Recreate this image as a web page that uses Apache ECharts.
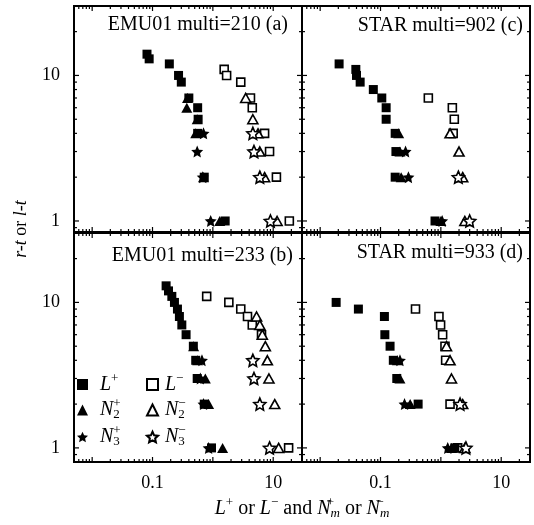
<!DOCTYPE html>
<html>
<head>
<meta charset="utf-8">
<script src="https://cdn.jsdelivr.net/npm/echarts@6/dist/echarts.min.js"></script>
<style>
html,body{margin:0;padding:0;background:#fff;}
#chart{width:534px;height:525px;}
</style>
</head>
<body>
<div id="chart"></div>
<script>
// ---------- data: [x, r-t] pairs ----------
// panel (a) EMU01 multi=210
const a_Lp  = [[0.081,14],[0.088,13],[0.19,12],[0.27,10],[0.30,9],[0.40,7],[0.56,6],[0.57,5],[0.56,4],[0.72,2],[1.6,1]];
const a_N2p = [[0.38,7],[0.37,6],[0.55,5],[0.52,4],[0.70,2],[1.3,1]];
const a_N3p = [[0.70,4],[0.55,3],[0.68,2],[0.92,1]];
const a_Lm  = [[1.54,11],[1.69,10],[2.9,9],[4.2,7],[4.5,6],[7.2,4],[8.7,3],[11.3,2],[18.5,1]];
const a_N2m = [[3.5,7],[4.6,5],[5.6,4],[6.0,3],[7.2,2],[11.6,1]];
const a_N3m = [[4.6,4],[4.8,3],[6.0,2],[9.0,1]];
// panel (c) STAR multi=902
const c_Lp  = [[0.0206,12],[0.039,11],[0.040,10],[0.046,9],[0.076,8],[0.105,7],[0.124,6],[0.124,5],[0.175,4],[0.18,3],[0.175,2],[0.80,1]];
const c_N2p = [[0.20,4],[0.21,3],[0.22,2],[1.0,1]];
const c_N3p = [[0.26,3],[0.29,2],[1.05,1]];
const c_Lm  = [[0.62,7],[1.55,6],[1.67,5],[1.6,4]];
const c_N2m = [[1.42,4],[2.0,3],[2.3,2],[2.5,1]];
const c_N3m = [[1.95,2],[3.0,1]];
// panel (b) EMU01 multi=233
const b_Lp  = [[0.168,13],[0.184,12],[0.209,11],[0.231,10],[0.259,9],[0.279,8],[0.306,7],[0.36,6],[0.475,5],[0.52,4],[0.55,3],[0.72,2],[0.95,1]];
const b_N2p = [[0.48,5],[0.56,4],[0.75,3],[0.85,2],[1.45,1]];
const b_N3p = [[0.66,4],[0.62,3],[0.70,2],[0.85,1]];
const b_Lm  = [[0.79,11],[1.84,10],[2.9,9],[3.75,8],[4.5,7],[6.4,6],[18,1]];
const b_N2m = [[5.3,8],[6.0,7],[6.6,6],[7.4,5],[8.0,4],[8.5,3],[10.6,2],[12.3,1]];
const b_N3m = [[4.6,4],[4.8,3],[6.0,2],[8.7,1]];
// panel (d) STAR multi=933
const d_Lp  = [[0.0184,10],[0.043,9],[0.116,8],[0.118,6],[0.144,5],[0.163,4],[0.186,3],[0.42,2],[1.7,1]];
const d_N2p = [[0.19,4],[0.21,3],[0.31,2],[1.5,1]];
const d_N3p = [[0.21,4],[0.25,2],[1.3,1]];
const d_Lm  = [[0.38,9],[0.93,8],[0.99,7],[1.07,6],[1.17,5],[1.2,4],[1.42,2],[1.9,1]];
const d_N2m = [[1.24,5],[1.42,4],[1.5,3],[2.3,2],[2.5,1]];
const d_N3m = [[2.08,2],[2.6,1]];

const panelTitles = ['EMU01 multi=210 (a)', 'STAR multi=902 (c)', 'EMU01 multi=233 (b)', 'STAR multi=933 (d)'];
const seriesNames = ['Lp','N2p','N3p','Lm','N2m','N3m'];
const legendLabels = ['{i|L}{sp|+}','{i|N}{spz|+}{sb|2}','{i|N}{spz|+}{sb|3}','{i|L}{sp|−}','{i|N}{spz|−}{sb|2}','{i|N}{spz|−}{sb|3}'];
const xTickLabels = ['0.1','10'];
const yTickLabels = ['1','10'];
const xMajorTicks = [0.01,0.1,1,10];
const xMinorTicks = [0.006,0.007,0.008,0.009,0.02,0.03,0.04,0.05,0.06,0.07,0.08,0.09,0.2,0.3,0.4,0.5,0.6,0.7,0.8,0.9,2,3,4,5,6,7,8,9,20];
const yMajorTicks = [1,10];
const yMinorTicks = [0.9,2,3,4,5,6,7,8,9,20];

const panels = [
  [a_Lp,a_N2p,a_N3p,a_Lm,a_N2m,a_N3m],
  [c_Lp,c_N2p,c_N3p,c_Lm,c_N2m,c_N3m],
  [b_Lp,b_N2p,b_N3p,b_Lm,b_N2m,b_N3m],
  [d_Lp,d_N2p,d_N3p,d_Lm,d_N2m,d_N3m]
];

// ---------- styling ----------
const FONT = 'Liberation Serif';
const STAR = 'path://M0,-10L2.8,-3.8L9.5,-3.1L4.5,1.5L5.9,8.1L0,4.8L-5.9,8.1L-4.5,1.5L-9.5,-3.1L-2.8,-3.8Z';
const markStyles = [
  {symbol:'rect', size:9, open:false},
  {symbol:'triangle', size:[11,10], open:false},
  {symbol:STAR, size:12, open:false},
  {symbol:'rect', size:8, open:true},
  {symbol:'triangle', size:[10,9], open:true},
  {symbol:STAR, size:12, open:true}
];
const grids = [
  {left:74, top:6, width:228, height:226},
  {left:302, top:6, width:228, height:226},
  {left:74, top:233, width:228, height:229},
  {left:302, top:233, width:228, height:229}
];
const yMins = [0.84, 0.84, 0.8, 0.8];
const titlePos = [
  {right:246, top:15},
  {right:11, top:16},
  {right:241, top:246},
  {right:11, top:243}
];

function fmt(v){ return String(+Number(v).toPrecision(6)); }

const xAxes = grids.map((g,i)=>({
  type:'log', logBase:10, gridIndex:i, min:0.005, max:30,
  axisLine:{show:false}, axisTick:{show:false}, splitLine:{show:false}, minorTick:{show:false},
  axisLabel:{show: i>=2, margin:12, color:'#000', fontFamily:FONT, fontSize:18,
    showMinLabel:false, showMaxLabel:false,
    formatter: v => xTickLabels.includes(fmt(v)) ? fmt(v) : ''}
}));
const yAxes = grids.map((g,i)=>({
  type:'log', logBase:10, gridIndex:i, min:yMins[i], max:30,
  axisLine:{show:false}, axisTick:{show:false}, splitLine:{show:false}, minorTick:{show:false},
  axisLabel:{show: i%2===0, margin:14, color:'#000', fontFamily:FONT, fontSize:18,
    showMinLabel:false, showMaxLabel:false,
    formatter: v => yTickLabels.includes(fmt(v)) ? fmt(v) : ''}
}));

// tick data: [x, y, length, kind]
const tickData = [];
xMajorTicks.forEach(v=>tickData.push([v,1,5,0]));
xMinorTicks.forEach(v=>tickData.push([v,1,3,0]));
yMajorTicks.forEach(v=>tickData.push([1,v,5,1]));
yMinorTicks.forEach(v=>tickData.push([1,v,3,1]));

const series = [];
panels.forEach((sets,pi)=>{
  sets.forEach((pts,si)=>{
    const st = markStyles[si];
    series.push({
      name: seriesNames[si], type:'scatter', xAxisIndex:pi, yAxisIndex:pi,
      symbol: st.symbol, symbolSize: st.size, data: pts, z: st.open ? 3 : 4,
      itemStyle: st.open ? {color:'#fff', borderColor:'#000', borderWidth:1.6, opacity:1}
                         : {color:'#000', borderWidth:0, opacity:1},
      emphasis:{disabled:true}, silent:true
    });
  });
  series.push({
    type:'custom', xAxisIndex:pi, yAxisIndex:pi, data: tickData, silent:true, z:10,
    renderItem: function(params, api){
      const cs = params.coordSys;
      const len = api.value(2), kind = api.value(3);
      const sty = {stroke:'#000', lineWidth:1.2};
      if (kind === 0) {
        const x = api.coord([api.value(0), 1])[0];
        return {type:'group', children:[
          {type:'line', shape:{x1:x, y1:cs.y+cs.height, x2:x, y2:cs.y+cs.height-len}, style:sty},
          {type:'line', shape:{x1:x, y1:cs.y, x2:x, y2:cs.y+len}, style:sty}
        ]};
      } else {
        const y = api.coord([1, api.value(1)])[1];
        return {type:'group', children:[
          {type:'line', shape:{x1:cs.x, y1:y, x2:cs.x+len, y2:y}, style:sty},
          {type:'line', shape:{x1:cs.x+cs.width, y1:y, x2:cs.x+cs.width-len, y2:y}, style:sty}
        ]};
      }
    }
  });
});

const richLegend = {
  i:{fontFamily:FONT, fontStyle:'italic', fontSize:20, color:'#000'},
  sp:{fontFamily:FONT, fontSize:13, color:'#000', padding:[0,0,12,0]},
  spz:{fontFamily:FONT, fontSize:13, color:'#000', padding:[0,0,12,0], width:0},
  sb:{fontFamily:FONT, fontSize:13, color:'#000', padding:[10,0,0,0]}
};
function legendFmt(name){ return legendLabels[seriesNames.indexOf(name)]; }

const option = {
  backgroundColor:'#fff',
  animation:false,
  grid: grids.map(g=>Object.assign({show:true, borderColor:'#000', borderWidth:2, backgroundColor:'transparent'}, g)),
  xAxis: xAxes,
  yAxis: yAxes,
  title: panelTitles.map((t,i)=>Object.assign({text:t, padding:0,
    textStyle:{fontFamily:FONT, fontSize:20, fontWeight:'normal', color:'#000'}}, titlePos[i])),
  legend: [
    {data: seriesNames.slice(0,3), orient:'vertical', left:77, top:372, itemWidth:11, itemHeight:11, itemGap:3,
     selectedMode:false, formatter: legendFmt, padding:0,
     textStyle:{fontFamily:FONT, fontSize:20, color:'#000', padding:[0,0,0,7], rich:richLegend}},
    {data: seriesNames.slice(3,6), orient:'vertical', left:146, top:372, itemWidth:11, itemHeight:11, itemGap:3,
     selectedMode:false, formatter: legendFmt, padding:0,
     textStyle:{fontFamily:FONT, fontSize:20, color:'#000', padding:[0,0,0,2], rich:richLegend}}
  ],
  graphic: [
    {type:'text', x:21, y:229, rotation:Math.PI/2,
     style:{text:'{i|r-t} or {i|l-t}', fontFamily:FONT, fontSize:18, fill:'#000', align:'center', verticalAlign:'middle',
       rich:{i:{fontFamily:FONT, fontStyle:'italic', fontSize:18}}}},
    {type:'text', x:302, y:509,
     style:{text:'{i|L}{sp|+} or {i|L}{sp|−} and {i|N}{spz|+}{sbi|m} or {i|N}{spz|−}{sbi|m}',
       fontFamily:FONT, fontSize:20, fill:'#000', align:'center', verticalAlign:'middle',
       rich:{
         i:{fontFamily:FONT, fontStyle:'italic', fontSize:20},
         sp:{fontFamily:FONT, fontSize:13, padding:[0,0,12,0]},
         spz:{fontFamily:FONT, fontSize:13, padding:[0,0,12,0], width:0},
         sbi:{fontFamily:FONT, fontStyle:'italic', fontSize:13, padding:[10,0,0,0]}
       }}}
  ],
  series: series
};

const chart = echarts.init(document.getElementById('chart'), null, {renderer:'canvas'});
chart.setOption(option);
</script>
</body>
</html>
